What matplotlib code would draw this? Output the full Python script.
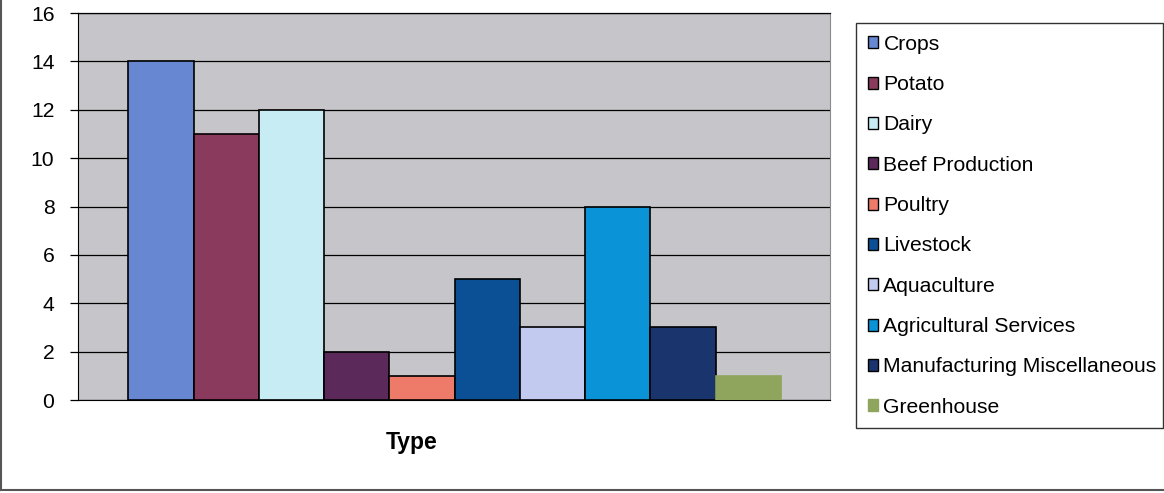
import matplotlib
matplotlib.use("Agg")
import matplotlib.pyplot as plt
from matplotlib.lines import Line2D

plt.rcParams['font.family'] = ['Liberation Sans', 'DejaVu Sans']

categories = ["Crops", "Potato", "Dairy", "Beef Production", "Poultry",
              "Livestock", "Aquaculture", "Agricultural Services",
              "Manufacturing Miscellaneous", "Greenhouse"]
values = [14, 11, 12, 2, 1, 5, 3, 8, 3, 1]
colors = ["#6787D2", "#8A3A5C", "#C8ECF3", "#5C2A5A", "#EE7B6A",
          "#0B4F95", "#C3CAF0", "#0A93D6", "#1A346E", "#8FA45C"]
edges = ["black"] * 9 + ["#8FA45C"]
yticks = [0, 2, 4, 6, 8, 10, 12, 14, 16]

FS = 15.2

fig = plt.figure(figsize=(11.64, 4.93), dpi=100)
ax = fig.add_axes([0.067, 0.1886, 0.646, 0.785])
ax.set_facecolor("#C6C6CA")

xpos = list(range(len(values)))
bars = ax.bar(xpos, values, width=1.0, color=colors, edgecolor=edges,
              linewidth=1.2, zorder=3)
for b, name in zip(bars, categories):
    b.set_label(name)

ax.set_xlim(-1.27, 10.25)
ax.set_ylim(0, 16)
ax.set_yticks(yticks)
ax.set_yticklabels([str(t) for t in yticks], fontsize=FS)
ax.set_xticks([])
ax.yaxis.grid(True, color="black", linewidth=0.9, zorder=1)
ax.set_axisbelow(True)
ax.tick_params(axis="y", direction="out", length=6, width=0.9, pad=11)

ax.spines["left"].set_color("black")
ax.spines["bottom"].set_color("black")
ax.spines["top"].set_color("black")
ax.spines["top"].set_linewidth(0.9)
ax.spines["right"].set_color("#8A8A8A")

ax.text(0.444, -0.111, "Type", transform=ax.transAxes, ha="center",
        va="center", fontsize=16.5, fontweight="bold")

leg = fig.legend(handles=list(bars), loc="upper left",
                 bbox_to_anchor=(0.7354, 0.953, 0.2636, 0.0), mode="expand",
                 fontsize=FS, frameon=True, fancybox=False,
                 edgecolor="black", handlelength=0.5, handleheight=0.5,
                 handletextpad=0.25, labelspacing=1.01, borderpad=0.55,
                 borderaxespad=0.0)
leg.get_frame().set_linewidth(1.0)
for h in leg.legend_handles:
    h.set_edgecolor("black")
    h.set_linewidth(1.0)
leg.legend_handles[-1].set_edgecolor("#8FA45C")

# chart area border
fig.add_artist(Line2D([0.001, 0.001], [0.006, 1.0], transform=fig.transFigure,
                      color="#555555", linewidth=1.5))
fig.add_artist(Line2D([0.001, 1.0], [0.006, 0.006], transform=fig.transFigure,
                      color="#555555", linewidth=1.5))

fig.savefig("out.png", dpi=100, facecolor="white")
